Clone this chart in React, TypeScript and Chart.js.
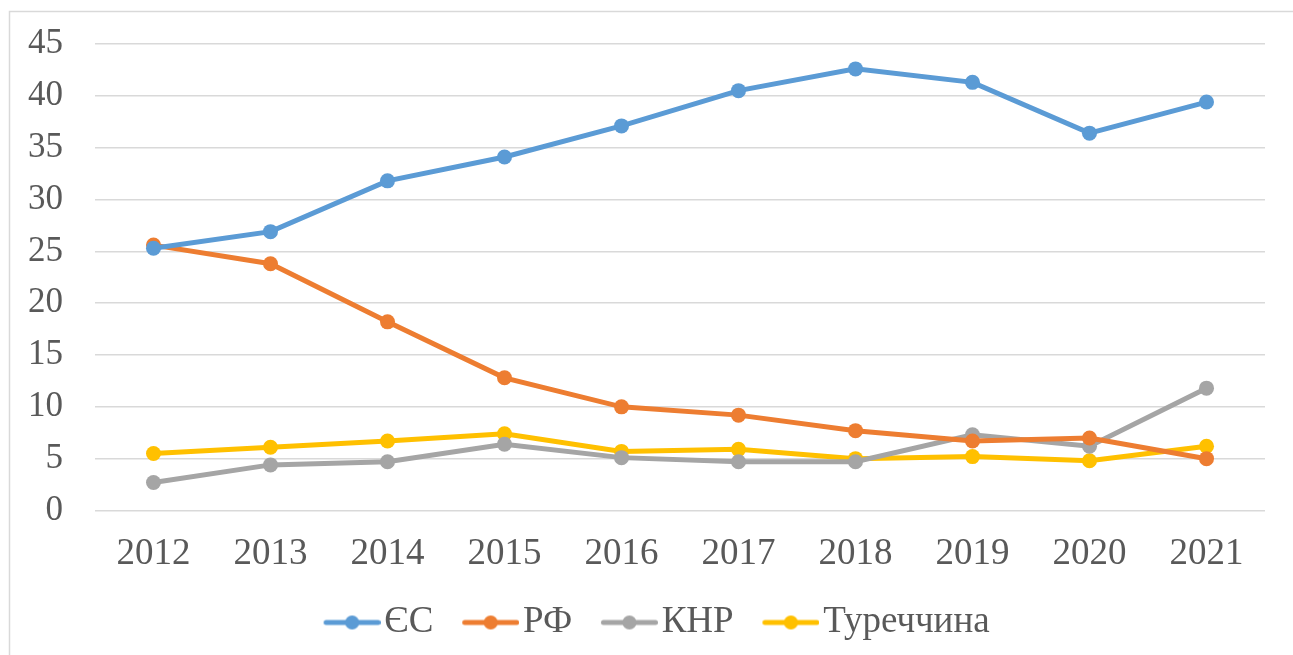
import React, { useEffect, useRef } from "react";
import { Chart, registerables } from "chart.js";

Chart.register(...registerables);

const years = ["2012", "2013", "2014", "2015", "2016", "2017", "2018", "2019", "2020", "2021"];
const euValues = [25.3, 26.9, 31.8, 34.1, 37.1, 40.5, 42.6, 41.3, 36.4, 39.4];
const ruValues = [25.6, 23.8, 18.2, 12.8, 10.0, 9.2, 7.7, 6.7, 7.0, 5.0];
const cnValues = [2.7, 4.4, 4.7, 6.4, 5.1, 4.7, 4.7, 7.3, 6.2, 11.8];
const trValues = [5.5, 6.1, 6.7, 7.4, 5.7, 5.9, 5.0, 5.2, 4.8, 6.2];
const seriesNames = ["ЄС", "РФ", "КНР", "Туреччина"];
const seriesColors = ["#5b9bd5", "#ed7d31", "#a5a5a5", "#ffc000"];

const FONT = "'Liberation Serif', 'Times New Roman', serif";
const TEXT = "#595959";

// legend icon: image 92 wide, line+dot drawn in the right 57 px
function legendIcon(color: string): HTMLCanvasElement {
  const c = document.createElement("canvas");
  c.width = 92;
  c.height = 18;
  const ctx = c.getContext("2d")!;
  const x0 = 35;
  ctx.strokeStyle = color;
  ctx.lineWidth = 5;
  ctx.lineCap = "round";
  ctx.beginPath();
  ctx.moveTo(x0 + 2.5, 9);
  ctx.lineTo(x0 + 54.5, 9);
  ctx.stroke();
  ctx.fillStyle = color;
  ctx.beginPath();
  ctx.arc(x0 + 28.5, 9, 7, 0, Math.PI * 2);
  ctx.fill();
  return c;
}

const borderPlugin = {
  id: "outerBorder",
  beforeDraw(chart: any) {
    const ctx = chart.ctx;
    ctx.save();
    ctx.fillStyle = "#ffffff";
    ctx.fillRect(0, 0, chart.width, chart.height);
    ctx.strokeStyle = "#d9d9d9";
    ctx.lineWidth = 1.5;
    ctx.strokeRect(9.5, 11.5, chart.width + 50, chart.height + 50);
    ctx.restore();
  },
};

const legendShift = {
  id: "legendShift",
  afterLayout(chart: any) {
    const l = chart.legend;
    if (l) {
      l.left += 14;
      l.right += 14;
    }
  },
};

export default function App() {
  const ref = useRef<HTMLCanvasElement | null>(null);
  useEffect(() => {
    if (!ref.current) return;
    const all = [euValues, ruValues, cnValues, trValues];
    const icons = seriesColors.map((c) => legendIcon(c));
    const chart = new Chart(ref.current, {
      type: "line",
      data: {
        labels: years,
        datasets: all.map((vals, i) => ({
          label: seriesNames[i],
          data: vals,
          borderColor: seriesColors[i],
          backgroundColor: seriesColors[i],
          pointBackgroundColor: seriesColors[i],
          pointBorderColor: seriesColors[i],
          borderWidth: 5,
          pointRadius: 7.5,
          pointHoverRadius: 7.5,
          pointBorderWidth: 0,
          tension: 0,
          fill: false,
          pointStyle: "circle",
        })),
      },
      options: {
        responsive: false,
        animation: false,
        layout: { padding: { top: 44, right: 28, left: 0, bottom: 4 } },
        plugins: {
          tooltip: { enabled: false },
          legend: {
            position: "bottom",
            labels: {
              usePointStyle: true,
              pointStyleWidth: 62.5,
              padding: 8.5,
              color: TEXT,
              font: { family: FONT, size: 37 },
              generateLabels: (ch: any) =>
                ch.data.datasets.map((ds: any, i: number) => ({
                  text: ds.label,
                  fillStyle: seriesColors[i],
                  strokeStyle: seriesColors[i],
                  pointStyle: icons[i],
                  fontColor: TEXT,
                  datasetIndex: i,
                  hidden: false,
                  lineWidth: 0,
                })),
            },
          },
        },
        scales: {
          x: {
            offset: true,
            grid: { display: false, drawTicks: false },
            border: { display: false },
            ticks: { color: TEXT, font: { family: FONT, size: 37 }, padding: 22, maxRotation: 0 },
            afterFit: (s: any) => { s.height = 85; },
          },
          y: {
            min: 0,
            max: 45,
            grid: { color: "#d9d9d9", lineWidth: 1.5, drawTicks: false },
            border: { display: false },
            ticks: { stepSize: 5, color: TEXT, font: { family: FONT, size: 35 }, padding: 32 },
            afterFit: (s: any) => { s.width = 95; s.paddingTop = 0; s.paddingBottom = 0; },
          },
        },
      },
      plugins: [borderPlugin, legendShift],
    } as any);
    return () => chart.destroy();
  }, []);
  return (
    <div style={{ position: "fixed", left: 0, top: 0, width: 1293, height: 655, background: "#fff" }}>
      <canvas ref={ref} width={1293} height={655} style={{ display: "block" }} />
    </div>
  );
}
